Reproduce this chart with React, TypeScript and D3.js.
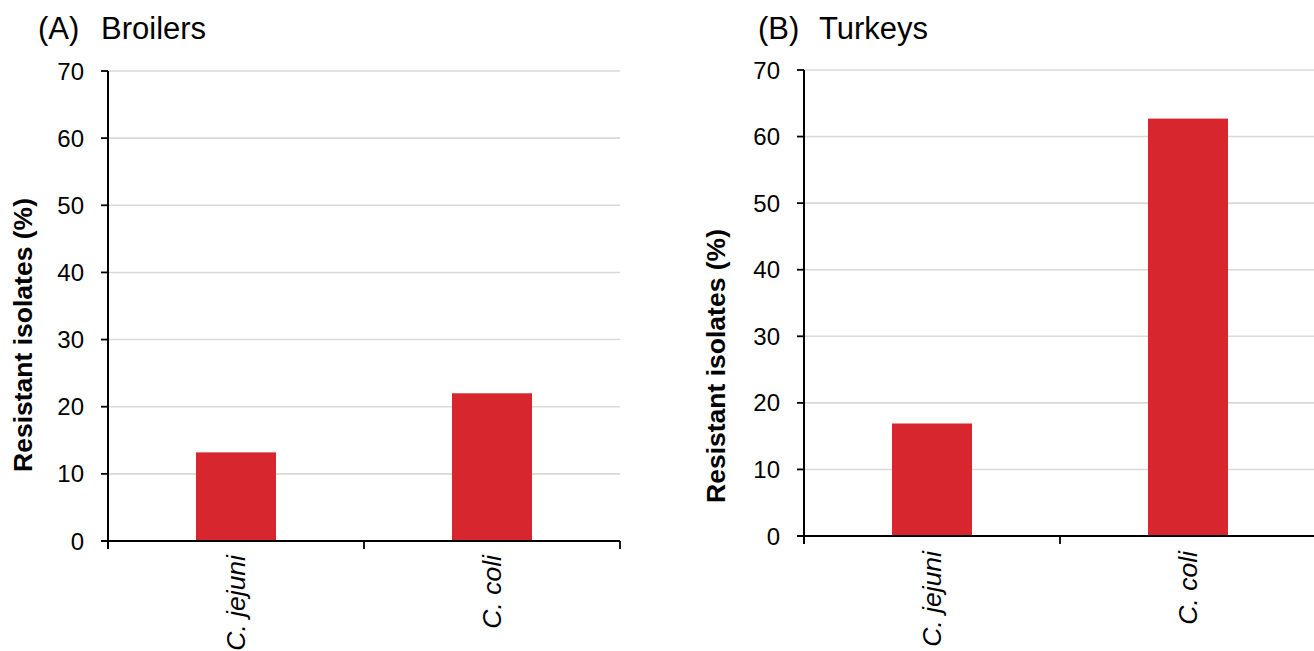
import React from "react";
import * as d3 from "d3";

const categories = ["C. jejuni", "C. coli"];
const broilersValues = [13.2, 22.0];
const turkeysValues = [16.9, 62.7];
const yTickValues = [0, 10, 20, 30, 40, 50, 60, 70];
const panelLetters = ["(A)", "(B)"];
const panelTitles = ["Broilers", "Turkeys"];
const yAxisTitle = "Resistant isolates (%)";

const FONT = "'Liberation Sans', Arial, Helvetica, sans-serif";
const BAR = "#d8262f";
const GRID = "#d9d9d9";

type PanelProps = {
  letter: string;
  title: string;
  values: number[];
  axisX: number;
  xRight: number;
  yTop: number;
  yZero: number;
  letterX: number;
  titleX: number;
  labelX: number;
  labelY: number;
  catLabelTop: number;
};

function Panel(p: PanelProps) {
  const y = d3.scaleLinear().domain([0, 70]).range([p.yZero, p.yTop]);
  const x = d3.scaleBand<string>().domain(categories).range([p.axisX, p.xRight]).padding(0);
  const bw = x.bandwidth() * 0.3125;
  const boundaries = [p.axisX, ...categories.map((c) => (x(c) as number) + x.bandwidth())];
  return (
    <g>
      <text x={p.letterX} y={39} fontFamily={FONT} fontSize={31} fill="#000">
        {p.letter}
      </text>
      <text x={p.titleX} y={39} fontFamily={FONT} fontSize={31} fill="#000">
        {p.title}
      </text>
      {yTickValues
        .filter((t) => t > 0)
        .map((t) => (
          <line key={"g" + t} x1={p.axisX} x2={p.xRight} y1={y(t)} y2={y(t)} stroke={GRID} strokeWidth={1.6} />
        ))}
      {categories.map((c, i) => {
        const cx = (x(c) as number) + x.bandwidth() / 2;
        return (
          <rect
            key={"b" + c}
            x={cx - bw / 2}
            y={y(p.values[i])}
            width={bw}
            height={y(0) - y(p.values[i])}
            fill={BAR}
          />
        );
      })}
      {yTickValues.map((t) => (
        <g key={"t" + t}>
          <line x1={p.axisX - 7} x2={p.axisX} y1={y(t)} y2={y(t)} stroke="#000" strokeWidth={1.8} />
          <text
            x={p.axisX - 24}
            y={y(t)}
            dy="0.36em"
            textAnchor="end"
            fontFamily={FONT}
            fontSize={24}
            fill="#000"
          >
            {t}
          </text>
        </g>
      ))}
      <line x1={p.axisX} x2={p.axisX} y1={y(70)} y2={y(0) + 8} stroke="#000" strokeWidth={2} />
      <line x1={p.axisX - 7} x2={p.xRight} y1={y(0)} y2={y(0)} stroke="#000" strokeWidth={2} />
      {boundaries.map((b, i) => (
        <line key={"xb" + i} x1={b} x2={b} y1={y(0)} y2={y(0) + 8} stroke="#000" strokeWidth={1.8} />
      ))}
      {categories.map((c) => {
        const cx = (x(c) as number) + x.bandwidth() / 2;
        return (
          <text
            key={"l" + c}
            transform={`translate(${cx},${p.catLabelTop}) rotate(-90)`}
            dy="0.33em"
            textAnchor="end"
            fontFamily={FONT}
            fontSize={26.5}
            fontStyle="italic"
            fill="#000"
          >
            {c}
          </text>
        );
      })}
      <text
        transform={`translate(${p.labelX},${p.labelY}) rotate(-90)`}
        textAnchor="middle"
        fontFamily={FONT}
        fontSize={26.5}
        fontWeight="bold"
        fill="#000"
      >
        {yAxisTitle}
      </text>
    </g>
  );
}

export default function App() {
  return (
    <svg
      width={1314}
      height={651}
      viewBox="0 0 1314 651"
      style={{ position: "absolute", left: 0, top: 0, background: "#fff" }}
    >
      <rect x={0} y={0} width={1314} height={651} fill="#fff" />
      <Panel
        letter={panelLetters[0]}
        title={panelTitles[0]}
        values={broilersValues}
        axisX={108}
        xRight={620}
        yTop={71}
        yZero={541}
        letterX={38}
        titleX={101}
        labelX={32}
        labelY={335}
        catLabelTop={555}
      />
      <Panel
        letter={panelLetters[1]}
        title={panelTitles[1]}
        values={turkeysValues}
        axisX={804}
        xRight={1316}
        yTop={70}
        yZero={536}
        letterX={758}
        titleX={819}
        labelX={725}
        labelY={366}
        catLabelTop={551}
      />
    </svg>
  );
}
